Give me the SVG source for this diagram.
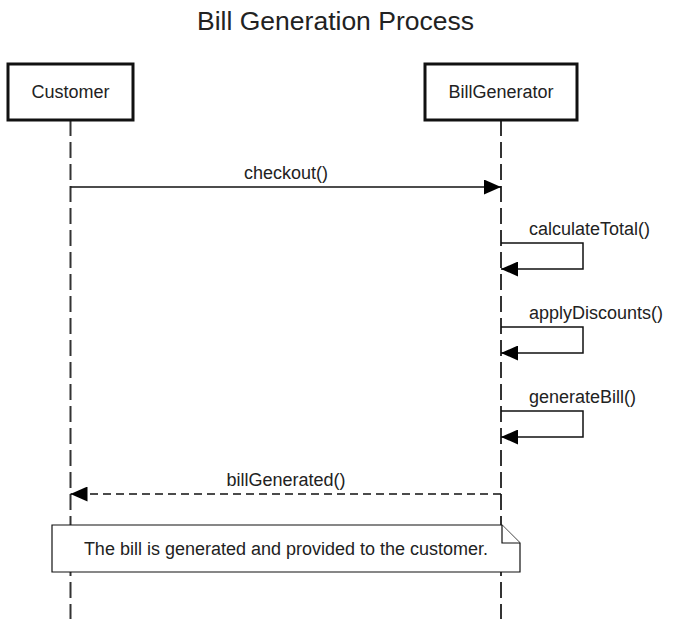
<svg xmlns="http://www.w3.org/2000/svg" width="673" height="619" viewBox="0 0 673 619">
<style>
text{font-family:"Liberation Sans",Arial,Helvetica,sans-serif;fill:#222;}
.title{font-size:26.5px;text-anchor:middle;}
.lbl{font-size:18px;}
.mid{text-anchor:middle;}
.actor{fill:#fff;stroke:#111;stroke-width:3;}
.life{stroke:#333;stroke-width:2;stroke-dasharray:16 6;fill:none;}
.msg{stroke:#111;stroke-width:1.5;fill:none;}
.ret{stroke:#111;stroke-width:1.5;fill:none;stroke-dasharray:8 5;}
.note{fill:#fff;stroke:#111;stroke-width:1.2;}
</style>
<defs>
<marker id="ah" markerUnits="userSpaceOnUse" markerWidth="17" markerHeight="15" refX="17" refY="7.5" orient="auto">
<path d="M0,0 L17,7.5 L0,15 Z" fill="#000" stroke="none"/>
</marker>
</defs>
<rect width="673" height="619" fill="#fff"/>
<text class="title" x="335.5" y="30">Bill Generation Process</text>
<g id="lifelines">
<line class="life" x1="70.5" y1="120" x2="70.5" y2="619"/>
<line class="life" x1="501" y1="120" x2="501" y2="619"/>
</g>
<g id="customer">
<rect class="actor" x="8" y="64" width="125" height="56"/>
<text class="lbl mid" x="70.5" y="98">Customer</text>
</g>
<g id="billgenerator">
<rect class="actor" x="425" y="64" width="152" height="56"/>
<text class="lbl mid" x="501" y="98">BillGenerator</text>
</g>
<g id="connectors">
<path class="msg" d="M70.5,187 H501" marker-end="url(#ah)"/>
<text class="lbl mid" x="286" y="179">checkout()</text>
<path class="msg" d="M501,243 H583 V269 H501" marker-end="url(#ah)"/>
<text class="lbl" x="529" y="235">calculateTotal()</text>
<path class="msg" d="M501,327 H583 V353 H501" marker-end="url(#ah)"/>
<text class="lbl" x="529" y="319">applyDiscounts()</text>
<path class="msg" d="M501,411 H583 V437 H501" marker-end="url(#ah)"/>
<text class="lbl" x="529" y="403">generateBill()</text>
<path class="ret" d="M501,494 H70.5" marker-end="url(#ah)"/>
<text class="lbl mid" x="286" y="486">billGenerated()</text>
</g>
<g id="note">
<path class="note" d="M52,525 H502 L520,543 V572 H52 Z"/>
<path class="note" d="M502,525 V543 H520" fill="none"/>
<text class="lbl mid" x="286" y="555">The bill is generated and provided to the customer.</text>
</g>
</svg>
